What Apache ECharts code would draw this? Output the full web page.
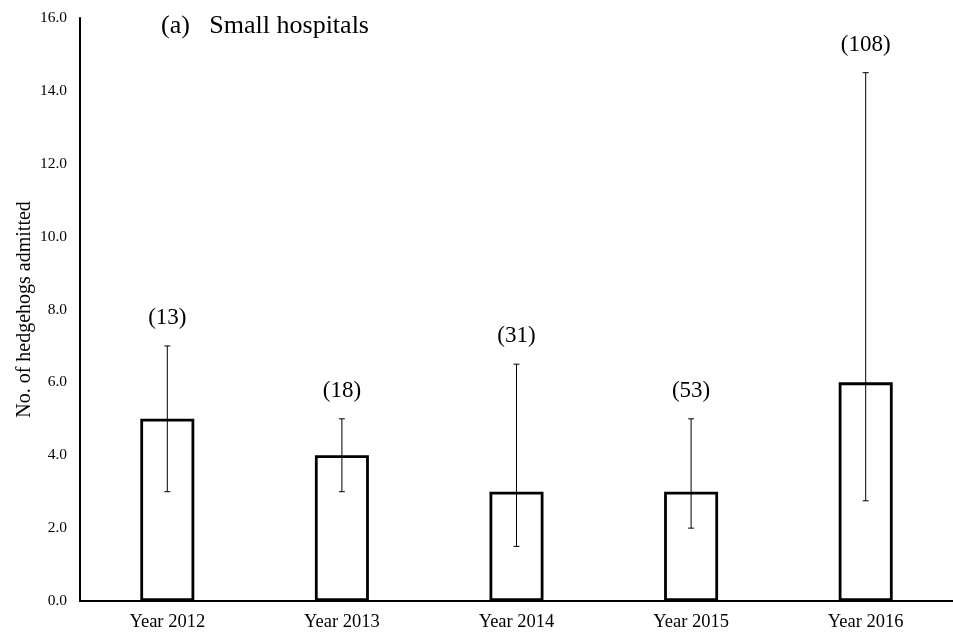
<!DOCTYPE html>
<html>
<head>
<meta charset="utf-8">
<script src="https://cdn.jsdelivr.net/npm/echarts@6/dist/echarts.min.js"></script>
<style>html,body{margin:0;padding:0;background:#fff}#c{width:953px;height:632px}</style>
</head>
<body>
<div id="c"></div>
<script>
const categories = ['Year 2012', 'Year 2013', 'Year 2014', 'Year 2015', 'Year 2016'];
const values = [5, 4, 3, 3, 6];
const errLow = [3, 3, 1.5, 2, 2.75];
const errHigh = [7, 5, 6.5, 5, 14.5];
const counts = ['(13)', '(18)', '(31)', '(53)', '(108)'];
const yTicks = { min: 0, max: 16, interval: 2 };

const errData = categories.map((c, i) => [i, errLow[i], errHigh[i], counts[i]]);

const chart = echarts.init(document.getElementById('c'));
chart.setOption({
  animation: false,
  backgroundColor: '#fff',
  title: {
    text: '(a)   Small hospitals',
    left: 156, top: 8,
    textStyle: { fontFamily: 'Liberation Serif', fontSize: 26, fontWeight: 'normal', color: '#000' }
  },
  grid: { left: 80, right: 0, top: 18, bottom: 31 },
  xAxis: {
    type: 'category',
    data: categories,
    axisLine: { lineStyle: { color: '#000', width: 2 } },
    axisTick: { show: false },
    axisLabel: { color: '#000', fontFamily: 'Liberation Serif', fontSize: 18.5, margin: 12 }
  },
  yAxis: {
    type: 'value',
    min: yTicks.min, max: yTicks.max, interval: yTicks.interval,
    name: 'No. of hedgehogs admitted',
    nameLocation: 'middle',
    nameGap: 45,
    nameMoveOverlap: false,
    nameTextStyle: { color: '#000', fontFamily: 'Liberation Serif', fontSize: 20 },
    axisLine: { show: true, lineStyle: { color: '#000', width: 2 } },
    axisTick: { show: false },
    splitLine: { show: false },
    axisLabel: { color: '#000', fontFamily: 'Liberation Serif', fontSize: 15.5, margin: 13,
      formatter: v => v.toFixed(1) }
  },
  series: [
    {
      type: 'bar',
      data: values,
      barWidth: 54,
      itemStyle: { color: '#fff', borderColor: '#000', borderWidth: 2.8 }
    },
    {
      type: 'custom',
      data: errData,
      z: 10,
      renderItem: function (params, api) {
        const x = api.value(0);
        const lo = api.coord([x, api.value(1)]);
        const hi = api.coord([x, api.value(2)]);
        const cap = 3;
        const style = { stroke: '#000', lineWidth: 1 };
        return {
          type: 'group',
          children: [
            { type: 'line', shape: { x1: lo[0], y1: lo[1], x2: hi[0], y2: hi[1] }, style },
            { type: 'line', shape: { x1: lo[0] - cap, y1: lo[1], x2: lo[0] + cap, y2: lo[1] }, style },
            { type: 'line', shape: { x1: hi[0] - cap, y1: hi[1], x2: hi[0] + cap, y2: hi[1] }, style },
            { type: 'text', style: { text: errData[params.dataIndex][3], x: hi[0], y: hi[1] - 28,
              align: 'center', verticalAlign: 'middle', fill: '#000',
              font: '23px "Liberation Serif"' } }
          ]
        };
      }
    }
  ]
});
</script>
</body>
</html>
